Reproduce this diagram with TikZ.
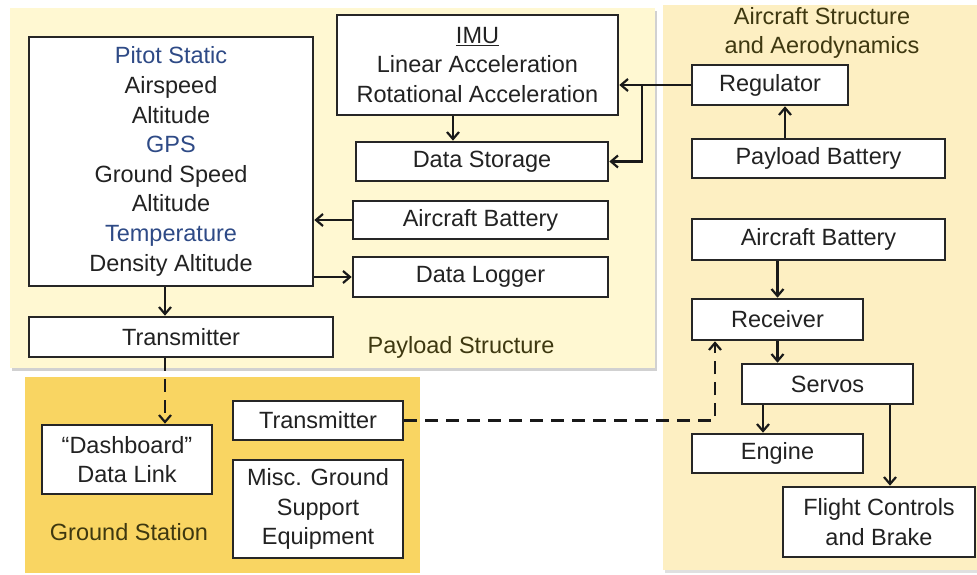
\documentclass[tikz,border=0pt]{standalone}
\usepackage{fontspec}
\setmainfont{Liberation Sans}
\usetikzlibrary{arrows.meta,calc}
\definecolor{payloadbg}{HTML}{FFF8D2}
\definecolor{aircraftbg}{HTML}{FDEFC2}
\definecolor{groundbg}{HTML}{F9D562}
\definecolor{bluetxt}{HTML}{2E4A86}
\definecolor{maintxt}{HTML}{222222}
\definecolor{labeltxt}{HTML}{3E3810}
\begin{document}
\begin{tikzpicture}[x=1pt,y=-1pt,
  every node/.style={font=\fontsize{23.5}{29.6}\selectfont, text=maintxt},
  blk/.style={draw=black!85, line width=2.6pt, fill=white, inner sep=0pt, align=center},
  arr/.style={line width=2.4pt, draw=black!90, -{Straight Barb[length=7pt,width=12pt,line width=2.2pt]}},
  darr/.style={arr, dash pattern=on 13pt off 8pt},
  lbl/.style={text=labeltxt, align=center}]
\useasboundingbox (0,0) rectangle (977,575);
\fill[white] (0,0) rectangle (977,575);
% panels
\fill[black!18] (12,11) rectangle (657,371);
\fill[payloadbg] (10,8) rectangle (655,368);
\fill[black!12] (665,8) rectangle (977,573);
\fill[aircraftbg] (663,5) rectangle (977,570);
\fill[groundbg] (25,377) rectangle (420,573);
% labels
\node[lbl] (lpay) at (461,347) {Payload Structure};
\node[lbl] (lgnd) at (129,532) {Ground Station};
\node[lbl, font=\fontsize{23.5}{29}\selectfont] (lair) at (822,33) {Aircraft Structure\\and Aerodynamics};
% payload blocks
\node[blk, minimum width=284, minimum height=249] (sensor) at (171,161.5)
  {\textcolor{bluetxt}{Pitot Static}\\Airspeed\\Altitude\\\textcolor{bluetxt}{GPS}\\Ground Speed\\Altitude\\\textcolor{bluetxt}{Temperature}\\Density Altitude};
\node[blk, minimum width=281, minimum height=100] (imu) at (477.5,65)
  {\underline{IMU}\\Linear Acceleration\\Rotational Acceleration};
\node[blk, minimum width=252, minimum height=39] (storage) at (482,161.5) {Data Storage};
\node[blk, minimum width=255, minimum height=38] (pbatt) at (480.5,220) {Aircraft Battery};
\node[blk, minimum width=255, minimum height=40] (logger) at (480.5,277) {Data Logger};
\node[blk, minimum width=304, minimum height=40] (tx1) at (181,337) {Transmitter};
% ground station blocks
\node[blk, minimum width=170, minimum height=39] (tx2) at (318,420.5) {Transmitter};
\node[blk, minimum width=170, minimum height=69] (dash) at (127,459.5) {``Dashboard''\\Data Link};
\node[blk, minimum width=170, minimum height=98] (misc) at (318,509) {Misc. Ground\\Support\\Equipment};
% aircraft blocks
\node[blk, minimum width=156, minimum height=40] (reg) at (770,85) {Regulator};
\node[blk, minimum width=253, minimum height=39] (paybat) at (818.5,158.5) {Payload Battery};
\node[blk, minimum width=253, minimum height=41] (acbat) at (818.5,239.5) {Aircraft Battery};
\node[blk, minimum width=171, minimum height=41] (recv) at (777.5,319.5) {Receiver};
\node[blk, minimum width=171, minimum height=40] (servos) at (827.5,384) {Servos};
\node[blk, minimum width=171, minimum height=39] (engine) at (777.5,453.5) {Engine};
\node[blk, minimum width=192, minimum height=70] (flight) at (879,522) {Flight Controls\\and Brake};
% connectors
\coordinate (br) at ([xshift=-49]reg.west);
\draw[arr] (reg.west) -- (reg.west -| imu.east);
\draw[arr] (br) |- (storage.east);
\draw[arr] ([xshift=-24.5]imu.south) -- ([xshift=-24.5]imu.south |- storage.north);
\draw[arr] (pbatt.west) -- (pbatt.west -| sensor.east);
\draw[arr] (logger.west -| sensor.east) -- (logger.west);
\draw[arr] ([xshift=-6]sensor.south) -- ([xshift=-6]sensor.south |- tx1.north);
\draw[darr] ([xshift=-16]tx1.south) -- ([xshift=-16]tx1.south |- dash.north);
\draw[arr] ([xshift=15]reg.south |- paybat.north) -- ([xshift=15]reg.south);
\draw[arr] (acbat.south -| recv.north) -- (recv.north);
\draw[arr] (recv.south) -- (recv.south |- servos.north);
\draw[arr] ([xshift=-14.5]engine.north |- servos.south) -- ([xshift=-14.5]engine.north);
\draw[arr] ([xshift=11]flight.north |- servos.south) -- ([xshift=11]flight.north);
\draw[darr] (tx2.east) -| ([xshift=-62.5]recv.south);
\end{tikzpicture}
\end{document}
